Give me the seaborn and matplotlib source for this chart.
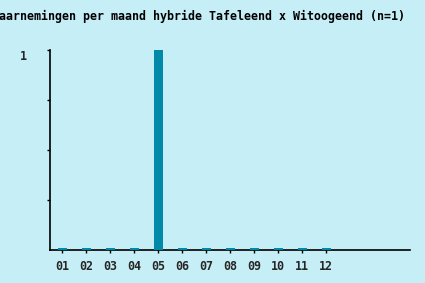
import matplotlib
matplotlib.use("Agg")
import matplotlib.pyplot as plt
import seaborn as sns
import pandas as pd

months = ["01", "02", "03", "04", "05", "06", "07", "08", "09", "10", "11", "12"]
counts = [0, 0, 0, 0, 1, 0, 0, 0, 0, 0, 0, 0]
title = "Waarnemingen per maand hybride Tafeleend x Witoogeend (n=1)"

bg = "#C6EEF6"
bar_color = "#0089A8"

sns.set_theme(style="white")
plt.rcParams["font.family"] = ["DejaVu Sans Mono"]

fig = plt.figure(figsize=(4.25, 2.83), dpi=100, facecolor=bg)
ax = fig.add_axes([50 / 425, 33 / 283, 360 / 425, 200 / 283])
ax.set_facecolor(bg)

df = pd.DataFrame({"maand": months, "aantal": counts})
sns.barplot(data=df, x="maand", y="aantal", order=months, color=bar_color,
            saturation=1, width=0.375, linewidth=0, ax=ax, zorder=3)

# zero months are shown as a thin stub, like the original chart
for p in ax.patches:
    if p.get_height() == 0:
        p.set_height(0.011)
        p.set_y(0.001)

ax.set_xlim(-0.5, 14.5)
ax.set_ylim(0, 1)
ax.set_xlabel("")
ax.set_ylabel("")

for s in ["top", "right"]:
    ax.spines[s].set_visible(False)
for s in ["left", "bottom"]:
    ax.spines[s].set_color("black")
    ax.spines[s].set_linewidth(1.2)
    ax.spines[s].set_zorder(2)

ax.set_yticks([0.25, 0.5, 0.75, 1.0])
ax.set_yticklabels(["", "", "", "1"])
ax.tick_params(axis="y", left=True, length=2.5, width=1, color="black",
               pad=14, labelsize=8.4)
for lab in ax.get_yticklabels():
    lab.set_fontweight("bold")
    lab.set_verticalalignment("top")

ax.tick_params(axis="x", bottom=True, length=2.5, width=1, color="black",
               pad=5, labelsize=8.4)
for lab in ax.get_xticklabels():
    lab.set_fontweight("bold")

fig.text(-8 / 425, 1 - 16 / 283, title, ha="left", va="center",
         fontsize=8.4, fontweight="bold", color="black")

fig.savefig("out.png", dpi=100, facecolor=bg)
